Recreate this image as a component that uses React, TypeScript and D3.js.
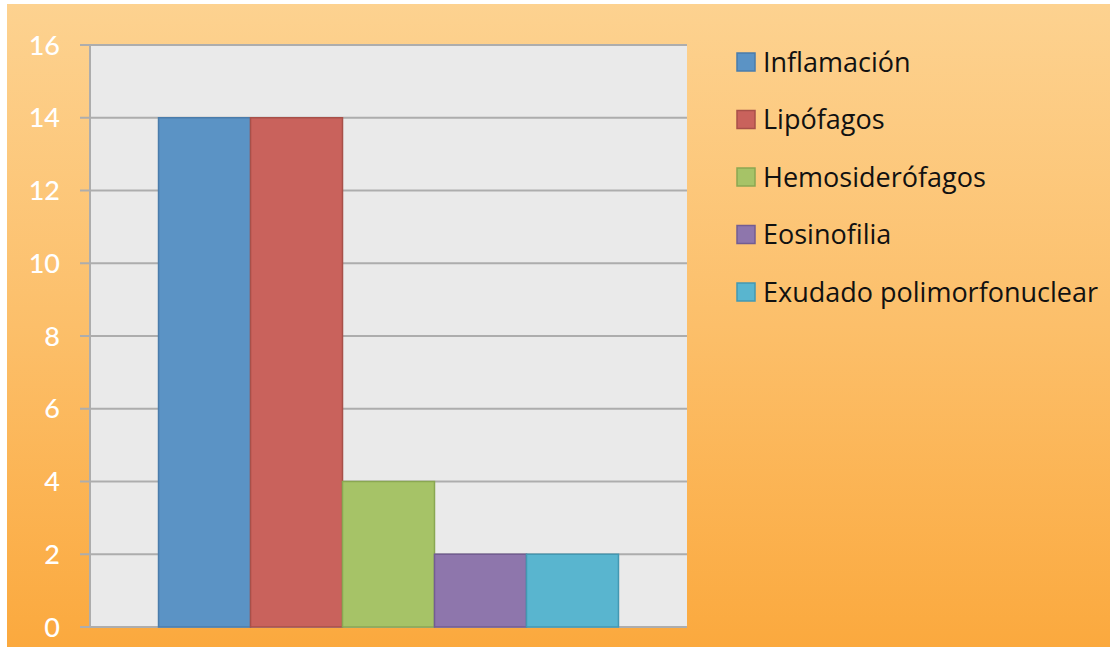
import React from "react";
import * as d3 from "d3";

const series = ["Inflamación", "Lipófagos", "Hemosiderófagos", "Eosinofilia", "Exudado polimorfonuclear"];
const values = [14, 14, 4, 2, 2];
const colors = ["#5b93c5", "#c9625c", "#a6c367", "#8e76ac", "#59b5cf"];
const strokes = ["#4a7cab", "#a85049", "#8aa752", "#735d92", "#4398b2"];
const yTicks = [0, 2, 4, 6, 8, 10, 12, 14, 16];
const category = ["Serie"];

const W = 1112, H = 648;
const plot = { left: 90, right: 687, top: 45, bottom: 627 };

export default function App() {
  const y = d3.scaleLinear().domain([0, 16]).range([plot.bottom, plot.top]);
  const xOuter = d3.scaleBand<string>().domain(category).range([plot.left, plot.right]).paddingInner(0).paddingOuter(0.149);
  const x = d3.scaleBand<string>().domain(series).range([xOuter(category[0])!, xOuter(category[0])! + xOuter.bandwidth()]).padding(0);
  const font = "Lato, 'Open Sans', sans-serif";
  const legendFont = "'Open Sans', Lato, sans-serif";
  return (
    <svg width={W} height={H} style={{ position: "absolute", left: 0, top: 0 }}>
      <defs>
        <linearGradient id="bg" x1="0" y1="0" x2="0" y2="1">
          <stop offset="0" stopColor="#fdd290" />
          <stop offset="0.5" stopColor="#fcbf6a" />
          <stop offset="1" stopColor="#fba93e" />
        </linearGradient>
      </defs>
      <rect x={0} y={0} width={W} height={H} fill="#ffffff" />
      <rect x={7} y={4} width={W - 9} height={H - 5} fill="url(#bg)" />
      <rect x={plot.left} y={plot.top} width={plot.right - plot.left} height={plot.bottom - plot.top} fill="#eaeaea" />
      {yTicks.map((t) => (
        <g key={t}>
          <line x1={plot.left - 10} x2={plot.right} y1={y(t)} y2={y(t)} stroke="#adadad" strokeWidth={2} />
          <text x={60} y={y(t)} dy="0.36em" textAnchor="end" fill="#ffffff" fontFamily={font} fontSize={27} fontWeight={500}>{t}</text>
        </g>
      ))}
      <line x1={plot.left} x2={plot.left} y1={plot.top} y2={plot.bottom} stroke="#adadad" strokeWidth={2} />
      {series.map((s, i) => (
        <rect key={s} x={x(s)!} y={y(values[i])} width={x.bandwidth()} height={y(0) - y(values[i])}
          fill={colors[i]} stroke={strokes[i]} strokeWidth={1.5} />
      ))}
      {series.map((s, i) => (
        <g key={s} transform={`translate(737, ${62 + i * 57.5})`}>
          <rect x={0} y={-9} width={18} height={18} fill={colors[i]} stroke={strokes[i]} strokeWidth={1.5} />
          <text x={26} y={0} dy="0.36em" fill="#111" fontFamily={legendFont} fontSize={27} fontWeight={500}>{s}</text>
        </g>
      ))}
    </svg>
  );
}
